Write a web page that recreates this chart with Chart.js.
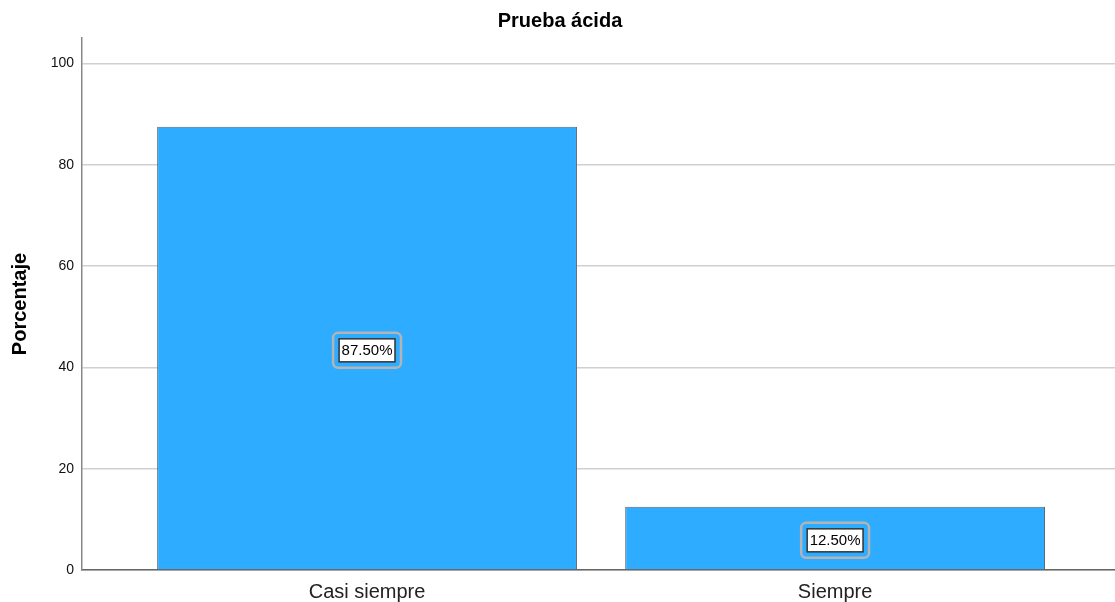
<!DOCTYPE html>
<html>
<head>
<meta charset="utf-8">
<script src="https://cdn.jsdelivr.net/npm/chart.js@4/dist/chart.umd.min.js"></script>
<style>
  html, body { margin: 0; padding: 0; background: #fff; }
  #wrap { width: 1115px; height: 602px; position: relative; }
</style>
</head>
<body>
<div id="wrap"><canvas id="chart"></canvas></div>
<script>
// Values.
const categories = ['Casi siempre', 'Siempre'];
const percentages = [87.5, 12.5];
const valueLabels = ['87.50%', '12.50%'];
const yTicks = [0, 20, 40, 60, 80, 100];
const chartTitle = 'Prueba ácida';
const yTitle = 'Porcentaje';

const FONT = 'Arial, "Liberation Sans", sans-serif';

// Title drawn by hand so the plot area top stays where the reference has it.
const titlePlugin = {
    id: 'titleText',
    afterDraw(chart) {
        const ctx = chart.ctx;
        ctx.save();
        ctx.font = `bold 20px ${FONT}`;
        ctx.fillStyle = '#000';
        ctx.textAlign = 'center';
        ctx.textBaseline = 'middle';
        ctx.fillText(chartTitle, 560, 21);
        ctx.restore();
    },
};

// Boxed value labels in the middle of each bar (white box, dark border, soft outer ring).
const valueBoxPlugin = {
    id: 'valueBoxes',
    afterDatasetsDraw(chart) {
        const ctx = chart.ctx;
        const meta = chart.getDatasetMeta(0);
        const yScale = chart.scales.y;
        ctx.save();
        ctx.font = `15px ${FONT}`;
        ctx.textAlign = 'center';
        ctx.textBaseline = 'middle';
        meta.data.forEach((bar, i) => {
            const cx = bar.x;
            const cy = yScale.getPixelForValue(percentages[i] / 2) + 2;
            const w = ctx.measureText(valueLabels[i]).width + 5;
            const h = 23;
            // outer ring
            ctx.strokeStyle = '#b4b4b4';
            ctx.lineWidth = 2.5;
            ctx.beginPath();
            ctx.roundRect(cx - w / 2 - 6, cy - h / 2 - 6, w + 12, h + 12, 5);
            ctx.stroke();
            // inner box
            ctx.fillStyle = '#fff';
            ctx.fillRect(cx - w / 2, cy - h / 2, w, h);
            ctx.strokeStyle = '#333';
            ctx.lineWidth = 1.5;
            ctx.strokeRect(cx - w / 2, cy - h / 2, w, h);
            ctx.fillStyle = '#000';
            ctx.fillText(valueLabels[i], cx, cy + 1);
        });
        ctx.restore();
    },
};

new Chart(document.getElementById('chart'), {
    type: 'bar',
    data: {
        datasets: [{
            data: percentages.map((v, i) => ({ x: i, y: v })),
            backgroundColor: '#2eacff',
            borderColor: '#5a6a78',
            borderWidth: 1,
            barPercentage: 0.897,
            categoryPercentage: 1,
        }],
    },
    options: {
        responsive: true,
        maintainAspectRatio: false,
        animation: false,
        layout: { padding: { top: 38, right: 0, left: 0, bottom: 0 } },
        plugins: { legend: { display: false }, tooltip: { enabled: false } },
        scales: {
            x: {
                type: 'linear',
                offset: false,
                min: -0.609,
                max: 1.598,
                afterBuildTicks(axis) { axis.ticks = categories.map((_, i) => ({ value: i })); },
                afterFit(axis) { axis.height = 32; },
                grid: { display: false, drawTicks: false, offset: false },
                border: { color: '#666', width: 1.5 },
                ticks: {
                    color: '#222',
                    font: { family: FONT, size: 20 },
                    padding: 10,
                    callback: (v) => categories[v] ?? '',
                },
            },
            y: {
                min: 0,
                max: 105,
                afterBuildTicks(axis) { axis.ticks = yTicks.map(v => ({ value: v })); },
                afterFit(axis) { axis.width = 82; },
                grid: { color: '#d0d0d0', lineWidth: 1.5, drawTicks: false },
                border: { color: '#888', width: 1.5 },
                ticks: {
                    color: '#111',
                    font: { family: FONT, size: 14 },
                    padding: 8,
                },
                title: {
                    display: true,
                    text: yTitle,
                    color: '#000',
                    font: { family: FONT, size: 20, weight: 'bold' },
                    padding: { top: 8, bottom: 4 },
                },
            },
        },
    },
    plugins: [titlePlugin, valueBoxPlugin],
});
</script>
</body>
</html>
